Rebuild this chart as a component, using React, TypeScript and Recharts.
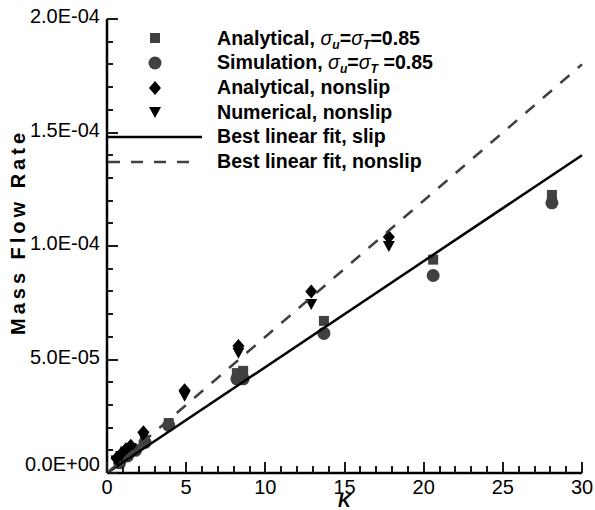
import { ScatterChart, Scatter, XAxis, YAxis, Legend } from 'recharts';

const FONT = '"Liberation Sans", Arial, Helvetica, sans-serif';

// slip series (sigma_u = sigma_T = 0.85)
const slipK = [0.8, 1.3, 1.8, 2.4, 3.9, 8.2, 8.6, 13.7, 20.6, 28.1];
const analyticalSlip = [5e-6, 8e-6, 1.05e-5, 1.45e-5, 2.2e-5, 4.4e-5, 4.5e-5, 6.7e-5, 9.4e-5, 1.225e-4];
const simulationSlip = [4.5e-6, 7.5e-6, 1.0e-5, 1.35e-5, 2.1e-5, 4.15e-5, 4.15e-5, 6.15e-5, 8.7e-5, 1.19e-4];

// nonslip series
const nonslipK = [0.6, 0.9, 1.2, 1.5, 2.3, 4.9, 8.3, 12.9, 17.8];
const analyticalNonslip = [6.5e-6, 8.5e-6, 1.05e-5, 1.2e-5, 1.8e-5, 3.65e-5, 5.6e-5, 8.0e-5, 1.04e-4];
const numericalNonslip = [5.5e-6, 7.5e-6, 9.5e-6, 1.1e-5, 1.6e-5, 3.4e-5, 5.3e-5, 7.45e-5, 1.0e-4];

// best linear fits
const fitK = [0, 30];
const slipFit = [0, 1.4e-4];
const nonslipFit = [0, 1.8e-4];

const xTicks = Array.from({ length: 31 }, (_, i) => i);
const yTicks = Array.from({ length: 21 }, (_, i) => i * 1e-5);

const toPoints = (ks: number[], rates: number[]) => ks.map((k, i) => ({ k, rate: rates[i] }));

const fmtSci = (v: number) => {
  const [m, e] = v.toExponential(1).split('e');
  const sign = e.startsWith('-') ? '-' : '+';
  const digits = e.replace(/[+-]/, '').padStart(2, '0');
  return `${m}E${sign}${digits}`;
};

const GRAY = '#404040';

const Square = ({ cx, cy }: any) => <rect x={cx - 5} y={cy - 5} width={10} height={10} fill={GRAY} />;
const Circle = ({ cx, cy }: any) => <circle cx={cx} cy={cy} r={6.5} fill={GRAY} />;
const Diamond = ({ cx, cy }: any) => (
  <path d={`M${cx},${cy - 7}L${cx + 6},${cy}L${cx},${cy + 7}L${cx - 6},${cy}Z`} fill="#000" />
);
const TriDown = ({ cx, cy }: any) => (
  <path d={`M${cx - 6},${cy - 5}L${cx + 6},${cy - 5}L${cx},${cy + 6}Z`} fill="#000" />
);
const NoMark = () => <g />;

// inward ticks, major every 5 units, minor every unit
const renderXTick = (props: any) => {
  const { x, y, payload } = props;
  const major = payload.value % 5 === 0;
  const len = major ? 11 : 7;
  const px = Math.round(x);
  return (
    <g>
      <rect x={px - 1} y={y - len} width={2} height={len} fill="#1a1a1a" />
      {major && (
        <text x={x} y={y + 21} textAnchor="middle" fontSize={20} fontFamily={FONT} fill="#000">
          {payload.value}
        </text>
      )}
    </g>
  );
};

const renderYTick = (props: any) => {
  const { x, y, payload } = props;
  const major = Math.round(payload.value / 1e-5) % 5 === 0;
  const len = major ? 11 : 6;
  const py = Math.round(y);
  return (
    <g>
      <rect x={x} y={py - 1} width={len} height={2} fill="#1a1a1a" />
      {major && (
        <text
          x={x - 7}
          y={payload.value === 0 ? y - 7 : y - 1}
          textAnchor="end"
          dominantBaseline="middle"
          fontSize={20}
          fontFamily={FONT}
          fill="#000"
        >
          {fmtSci(payload.value)}
        </text>
      )}
    </g>
  );
};

const Sigma = ({ sub }: { sub: string }) => (
  <span>
    <span style={{ fontStyle: 'italic', fontWeight: 'normal' }}>σ</span>
    <span style={{ fontStyle: 'italic', fontSize: '0.62em', position: 'relative', top: '0.35em' }}>{sub}</span>
  </span>
);

const legendRows = [
  { key: 'as', label: <>Analytical, <Sigma sub="u" />=<Sigma sub="T" />=0.85</> },
  { key: 'ss', label: <>Simulation, <Sigma sub="u" />=<Sigma sub="T" /> =0.85</> },
  { key: 'an', label: <>Analytical, nonslip</> },
  { key: 'nn', label: <>Numerical, nonslip</> },
  { key: 'fs', label: <>Best linear fit, slip</> },
  { key: 'fn', label: <>Best linear fit, nonslip</> },
];

const legendIcon = (key: string) => {
  switch (key) {
    case 'as':
      return <Square cx={48} cy={12} />;
    case 'ss':
      return <Circle cx={48} cy={12} />;
    case 'an':
      return <Diamond cx={48} cy={12} />;
    case 'nn':
      return <TriDown cx={48} cy={12} />;
    case 'fs':
      return <line x1={0} x2={95} y1={12} y2={12} stroke="#000" strokeWidth={2.5} />;
    default:
      return <line x1={1} x2={88} y1={12} y2={12} stroke={GRAY} strokeWidth={2.5} strokeDasharray="12 11" />;
  }
};

const renderLegend = () => (
  <div style={{ fontFamily: FONT, fontWeight: 'bold', fontSize: 19.6, color: '#000' }}>
    {legendRows.map((r) => (
      <div key={r.key} style={{ display: 'flex', alignItems: 'center', height: 24.7, lineHeight: 1 }}>
        <svg width={110} height={24} style={{ flex: 'none' }}>
          {legendIcon(r.key)}
        </svg>
        <span style={{ whiteSpace: 'nowrap' }}>{r.label}</span>
      </div>
    ))}
  </div>
);

export default function App() {
  return (
    <div style={{ position: 'absolute', left: 0, top: 0, width: 595, height: 510, background: '#fff', fontFamily: FONT }}>
      <ScatterChart width={595} height={510} margin={{ top: 19, right: 13, bottom: 0, left: 0 }}>
        <XAxis
          dataKey="k"
          type="number"
          domain={[0, 30]}
          ticks={xTicks}
          interval={0}
          tick={renderXTick}
          tickLine={false}
          tickSize={0}
          tickMargin={0}
          height={37}
          axisLine={{ stroke: '#000', strokeWidth: 2.5 }}
          label={(props: any) => {
            const vb = props.viewBox;
            return (
              <text x={vb.x + vb.width / 2} y={vb.y + 34} textAnchor="middle" fontSize={18} fontWeight="bold" fontStyle="italic" fontFamily={FONT} fill="#000">
                K
              </text>
            );
          }}
        />
        <XAxis xAxisId="top" orientation="top" type="number" domain={[0, 30]} tick={false} tickLine={false} height={0} axisLine={{ stroke: '#000', strokeWidth: 2.5 }} />
        <YAxis
          dataKey="rate"
          type="number"
          domain={[0, 2e-4]}
          ticks={yTicks}
          interval={0}
          tick={renderYTick}
          tickLine={false}
          tickSize={0}
          tickMargin={0}
          width={107}
          axisLine={{ stroke: '#000', strokeWidth: 2.5 }}
          label={(props: any) => {
            const vb = props.viewBox;
            const cy = vb.y + vb.height / 2 - 14;
            return (
              <text x={20} y={cy} transform={`rotate(-90, 20, ${cy})`} textAnchor="middle" dominantBaseline="middle" fontSize={20} fontWeight="bold" letterSpacing={4} fontFamily={FONT} fill="#000">
                Mass Flow Rate
              </text>
            );
          }}
        />
        <YAxis yAxisId="right" orientation="right" type="number" domain={[0, 2e-4]} tick={false} tickLine={false} width={0} axisLine={{ stroke: '#000', strokeWidth: 2.5 }} />
        <Legend layout="vertical" align="center" verticalAlign="middle" content={renderLegend} wrapperStyle={{ top: 26, left: 107, width: 420 }} />
        <Scatter name="Analytical slip" data={toPoints(slipK, analyticalSlip)} shape={<Square />} isAnimationActive={false} />
        <Scatter name="Simulation slip" data={toPoints(slipK, simulationSlip)} shape={<Circle />} isAnimationActive={false} />
        <Scatter name="Analytical nonslip" data={toPoints(nonslipK, analyticalNonslip)} shape={<Diamond />} isAnimationActive={false} />
        <Scatter name="Numerical nonslip" data={toPoints(nonslipK, numericalNonslip)} shape={<TriDown />} isAnimationActive={false} />
        <Scatter name="Fit slip" data={toPoints(fitK, slipFit)} shape={<NoMark />} line={{ stroke: '#000', strokeWidth: 2.5 }} isAnimationActive={false} />
        <Scatter name="Fit nonslip" data={toPoints(fitK, nonslipFit)} shape={<NoMark />} line={{ stroke: GRAY, strokeWidth: 2.5, strokeDasharray: '12 11' }} isAnimationActive={false} />
      </ScatterChart>
    </div>
  );
}
